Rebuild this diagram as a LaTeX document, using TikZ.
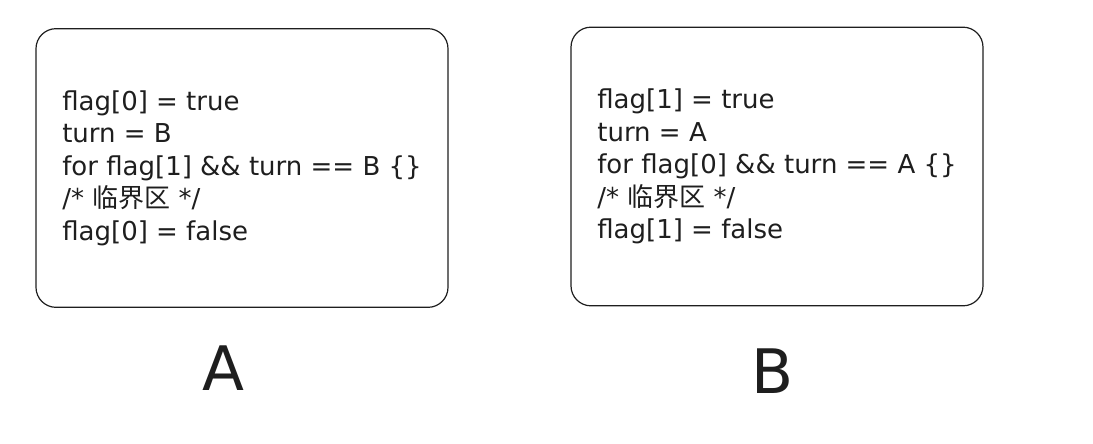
\documentclass[tikz,border=0pt]{standalone}
\usepackage{fontspec}
\setmainfont{DejaVu Sans}
\newfontfamily\cjk{Noto Sans CJK SC}
\definecolor{ink}{HTML}{1E1E1E}
\begin{document}
\begin{tikzpicture}[x=.75pt, y=-.75pt,
  code/.style={draw=ink, line width=.9pt, rounded corners=15pt,
    minimum width=309pt, minimum height=209pt, align=left, text=ink,
    font=\fontsize{19.5}{24.4}\selectfont},
  big/.style={text=ink, font=\fontsize{46}{50}\selectfont}]
\useasboundingbox (0,0) rectangle (1093,443);

\node[code] (procA) at (242,168) {flag[0] = true\\turn = B\\for flag[1] \&\& turn == B \{\}\\/* {\cjk 临界区} */\\flag[0] = false};
\node[code] (procB) at (777,166.5) {flag[1] = true\\turn = A\\for flag[0] \&\& turn == A \{\}\\/* {\cjk 临界区} */\\flag[1] = false};

\node[big] (labA) at (223,368) {A};
\node[big] (labB) at (773,371) {B};
\end{tikzpicture}
\end{document}
